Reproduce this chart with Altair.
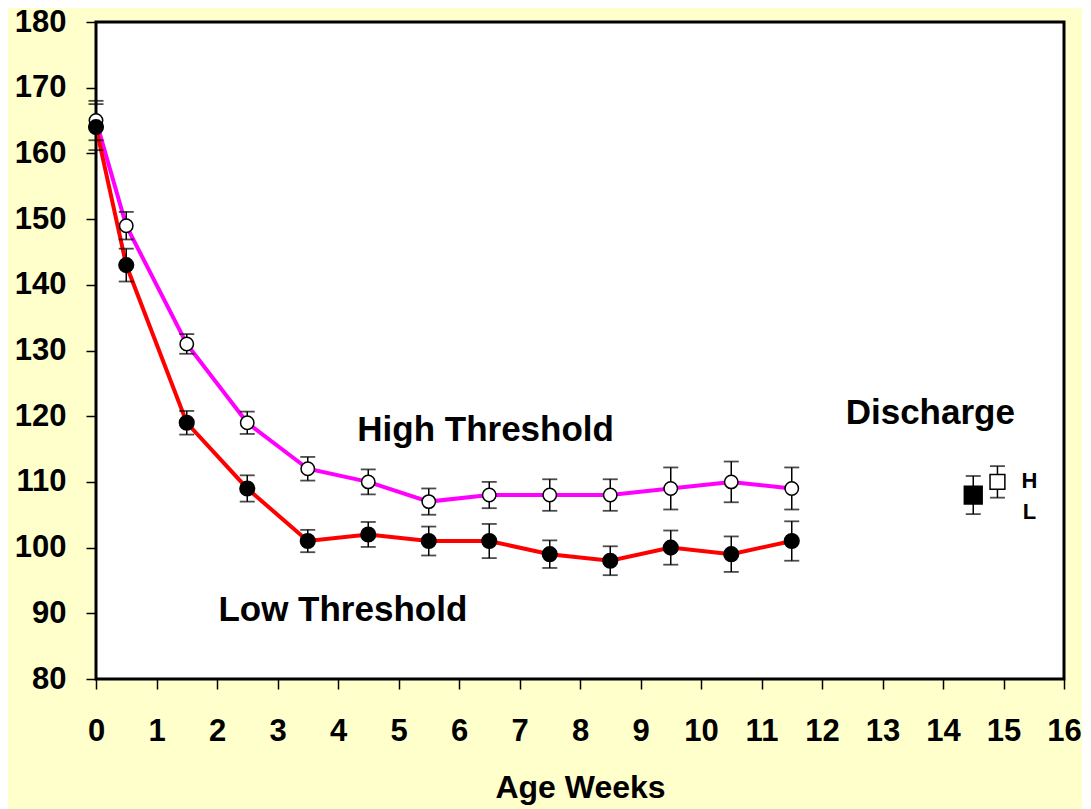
import altair as alt
import pandas as pd

weeks = [0, 0.5, 1.5, 2.5, 3.5, 4.5, 5.5, 6.5, 7.5, 8.5, 9.5, 10.5, 11.5]
high = [165, 149, 131, 119, 112, 110, 107, 108, 108, 108, 109, 110, 109]
high_err = [3.0, 2.1, 1.5, 1.7, 1.8, 1.9, 2.0, 2.0, 2.4, 2.4, 3.2, 3.1, 3.2]
low = [164, 143, 119, 109, 101, 102, 101, 101, 99, 98, 100, 99, 101]
low_err = [3.5, 2.5, 1.8, 2.0, 1.7, 1.9, 2.2, 2.6, 2.1, 2.2, 2.6, 2.7, 3.0]

discharge_weeks = [14.5, 14.9]
discharge_vals = [108, 110]
discharge_err = [2.9, 2.4]
discharge_series = ["Low", "High"]

labels = ["High Threshold", "Low Threshold", "Discharge", "H", "L"]
label_x = [6.44, 4.08, 13.79, 15.43, 15.43]
label_y = [117.9, 90.5, 120.5, 110.1, 105.4]
label_kind = ["big", "big", "big", "small", "small"]

FONT = "Liberation Sans"

df = pd.DataFrame({
    "week": weeks * 2,
    "value": high + low,
    "err": high_err + low_err,
    "series": ["High"] * len(weeks) + ["Low"] * len(weeks),
})
df["lo"] = df["value"] - df["err"]
df["hi"] = df["value"] + df["err"]

dd = pd.DataFrame({"week": discharge_weeks, "value": discharge_vals,
                   "err": discharge_err, "series": discharge_series})
dd["lo"] = dd["value"] - dd["err"]
dd["hi"] = dd["value"] + dd["err"]

lab = pd.DataFrame({"text": labels, "x": label_x, "y": label_y, "kind": label_kind})

xs = alt.Scale(domain=[0, 16], nice=False, zero=False)
ys = alt.Scale(domain=[80, 180], nice=False, zero=False)

xaxis = alt.Axis(values=list(range(0, 17)), format="d", title="Age Weeks", grid=False, domain=False,
                 tickSize=10, tickWidth=1.5, tickColor="black", labelFontSize=31,
                 labelFont=FONT, labelFontWeight="bold", labelColor="black",
                 labelOverlap=False, labelFlush=False,
                 labelPadding=27, titleFontSize=32, titleFont=FONT, titleFontWeight="bold",
                 titleColor="black", titlePadding=26)
yaxis = alt.Axis(values=list(range(80, 181, 10)), format="d", title=None, grid=False, domain=False,
                 tickSize=10, tickWidth=1.5, tickColor="black", labelFontSize=31,
                 labelFont=FONT, labelFontWeight="bold", labelColor="black",
                 labelOverlap=False, labelFlush=False,
                 labelPadding=20)

X = alt.X("week:Q", scale=xs, axis=xaxis)
Y = alt.Y("value:Q", scale=ys, axis=yaxis)

colors = alt.Scale(domain=["High", "Low"], range=["#FF00FF", "#FF0000"])

lines = alt.Chart(df).mark_line(strokeWidth=4).encode(
    x=X, y=Y, color=alt.Color("series:N", scale=colors, legend=None), detail="series:N"
)

def errbars(data):
    base = alt.Chart(data)
    r = base.mark_rule(color="black", strokeWidth=1.5).encode(
        x=alt.X("week:Q", scale=xs), y=alt.Y("lo:Q", scale=ys), y2="hi:Q")
    t1 = base.mark_tick(color="black", orient="horizontal", size=15, thickness=1.8).encode(
        x=alt.X("week:Q", scale=xs), y=alt.Y("lo:Q", scale=ys))
    t2 = base.mark_tick(color="black", orient="horizontal", size=15, thickness=1.8).encode(
        x=alt.X("week:Q", scale=xs), y=alt.Y("hi:Q", scale=ys))
    return r + t1 + t2

eb = errbars(df) + errbars(dd)

pts_high = alt.Chart(df[df.series == "High"]).mark_point(
    shape="circle", filled=True, fill="white", stroke="black", strokeWidth=1.5, size=180, opacity=1
).encode(x=alt.X("week:Q", scale=xs), y=alt.Y("value:Q", scale=ys))
pts_low = alt.Chart(df[df.series == "Low"]).mark_point(
    shape="circle", filled=True, fill="black", stroke="black", size=200, opacity=1
).encode(x=alt.X("week:Q", scale=xs), y=alt.Y("value:Q", scale=ys))

sq_low = alt.Chart(dd[dd.series == "Low"]).mark_point(
    shape="square", filled=True, fill="black", stroke="black", size=300, opacity=1
).encode(x=alt.X("week:Q", scale=xs), y=alt.Y("value:Q", scale=ys))
sq_high = alt.Chart(dd[dd.series == "High"]).mark_point(
    shape="square", filled=True, fill="white", stroke="black", strokeWidth=1.5, size=220, opacity=1
).encode(x=alt.X("week:Q", scale=xs), y=alt.Y("value:Q", scale=ys))

big = alt.Chart(lab[lab.kind == "big"]).mark_text(
    font=FONT, fontWeight="bold", fontSize=35, color="black", align="center", baseline="middle"
).encode(x=alt.X("x:Q", scale=xs), y=alt.Y("y:Q", scale=ys), text="text:N")
small = alt.Chart(lab[lab.kind == "small"]).mark_text(
    font=FONT, fontWeight="bold", fontSize=22, color="black", align="center", baseline="middle"
).encode(x=alt.X("x:Q", scale=xs), y=alt.Y("y:Q", scale=ys), text="text:N")

chart = alt.layer(lines, eb, pts_high, pts_low, sq_low, sq_high, big, small).properties(
    width=968, height=657, autosize="none",
    padding={"left": 88, "top": 14, "right": 18, "bottom": 130},
    background="#FFFFCC",
).configure_view(fill="white", stroke="black", strokeWidth=3)

chart.save("out.html", embed_options={"renderer": "svg", "actions": False})
